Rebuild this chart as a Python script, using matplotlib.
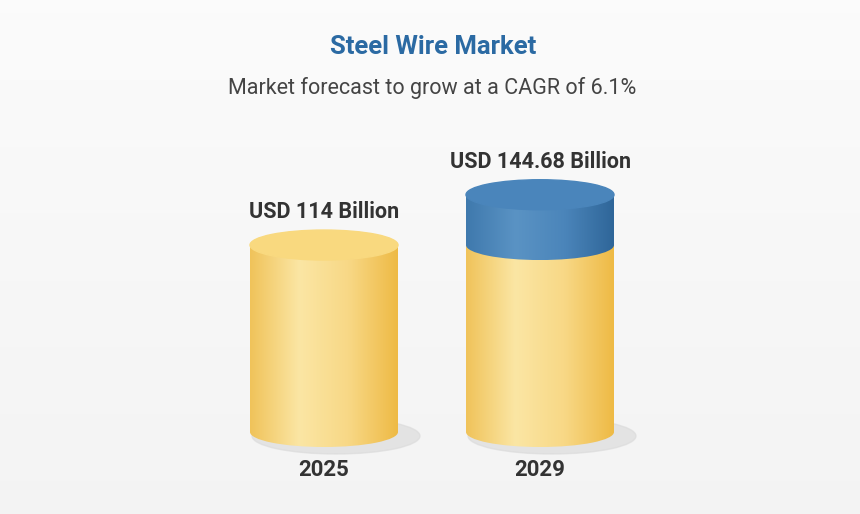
import numpy as np
import matplotlib
matplotlib.use("Agg")
import matplotlib.pyplot as plt
from matplotlib.patches import Ellipse, Rectangle
from matplotlib.colors import LinearSegmentedColormap

years = ["2025", "2029"]
values = [114, 144.68]
labels = ["USD 114 Billion", "USD 144.68 Billion"]
title = "Steel Wire Market"
subtitle = "Market forecast to grow at a CAGR of 6.1%"

W, H = 860, 514
fig = plt.figure(figsize=(W/100, H/100), dpi=100)
ax = fig.add_axes([0, 0, 1, 1])
ax.set_xlim(0, W); ax.set_ylim(H, 0); ax.axis("off")

# background
bg = np.linspace(0.985, 0.955, 256).reshape(-1, 1)
ax.imshow(np.dstack([bg, bg, bg]), extent=[0, W, H, 0], aspect="auto", zorder=0)

base = 432
k = 1.64
centers = [324, 540]
halfw = 74
ry = 15

ycmap = LinearSegmentedColormap.from_list("y", ["#f0c35a", "#fbe6a4", "#f8d886", "#eeba45"])
bcmap = LinearSegmentedColormap.from_list("b", ["#3f79ad", "#5a93c4", "#4b85ba", "#2f6699"])
grad = np.linspace(0, 1, 256).reshape(1, -1)

def body(cx, ytop, ybot, cmap, z):
    rect = Rectangle((cx-halfw, ytop), 2*halfw, ybot-ytop, transform=ax.transData)
    im = ax.imshow(grad, cmap=cmap, extent=[cx-halfw, cx+halfw, ybot, ytop], aspect="auto", zorder=z)
    im.set_clip_path(rect)
    e = Ellipse((cx, ybot), 2*halfw, 2*ry, transform=ax.transData)
    im2 = ax.imshow(grad, cmap=cmap, extent=[cx-halfw, cx+halfw, ybot+ry, ybot], aspect="auto", zorder=z)
    im2.set_clip_path(e)

for i, (cx, v) in enumerate(zip(centers, values)):
    ax.add_patch(Ellipse((cx+12, base+4), 2*halfw+20, 2*ry+6, color="#d9d9d9", alpha=0.6, zorder=1))
    ytop_y = base - values[0]*k
    body(cx, ytop_y, base, ycmap, 2)
    if i == 0:
        ax.add_patch(Ellipse((cx, ytop_y), 2*halfw, 2*ry, color="#f9d97f", zorder=4))
        top = ytop_y
    else:
        top = base - v*k
        body(cx, top, ytop_y, bcmap, 3)
        ax.add_patch(Ellipse((cx, top), 2*halfw, 2*ry, color="#4a85bb", zorder=4))
    ax.text(cx, top - 33, labels[i], ha="center", va="center", fontsize=15.5,
            fontweight="bold", color="#333333", family="Roboto")
    ax.text(cx, 470, years[i], ha="center", va="center", fontsize=16,
            fontweight="bold", color="#333333", family="Roboto")

ax.text(433, 47, title, ha="center", va="center", fontsize=18.5, fontweight="bold",
        color="#2b6aa3", family="Roboto")
ax.text(432, 88, subtitle, ha="center", va="center", fontsize=15.5,
        color="#444444", family="Roboto")

fig.savefig("out.png", dpi=100)
